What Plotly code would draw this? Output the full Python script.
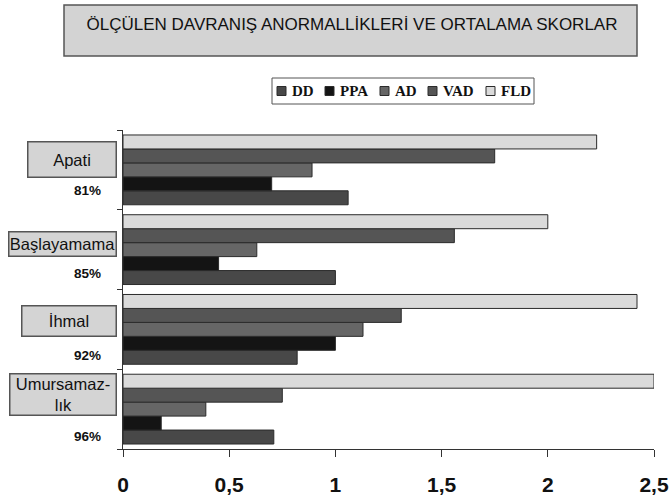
import plotly.graph_objects as go

# Behaviour abnormality categories (top to bottom) and share of patients
categories = ["Apati", "Başlayamama", "İhmal", "Umursamazlık"]
category_labels = ["Apati", "Başlayamama", "İhmal", "Umursamaz-<br>lık"]
prevalence = ["81%", "85%", "92%", "96%"]

# Mean scores per scale
series_names = ["DD", "PPA", "AD", "VAD", "FLD"]
dd = [1.06, 1.00, 0.82, 0.71]
ppa = [0.70, 0.45, 1.00, 0.18]
ad = [0.89, 0.63, 1.13, 0.39]
vad = [1.75, 1.56, 1.31, 0.75]
fld = [2.23, 2.00, 2.42, 2.50]
series_values = [dd, ppa, ad, vad, fld]

x_ticks = [0, 0.5, 1, 1.5, 2, 2.5]
x_tick_labels = ["0", "0,5", "1", "1,5", "2", "2,5"]

colors = ["#484848", "#141414", "#666666", "#555555", "#dadada"]
edge = "#2b2b2b"
box_fill = "#d4d4d4"
box_edge = "#555555"

W, H = 670, 499
L, R, T, B = 123, 16, 130, 50
PW, PH = W - L - R, H - T - B


def px(xp):
    return (xp - L) / PW


def py(yp):
    return (T + PH - yp) / PH


fig = go.Figure()
for name, vals, col in zip(series_names, series_values, colors):
    fig.add_trace(go.Bar(
        name=name, y=categories, x=vals, orientation="h",
        marker=dict(color=col, line=dict(color=edge, width=1)),
        showlegend=False,
    ))

shapes = []
annotations = []

# Title box
shapes.append(dict(type="rect", xref="paper", yref="paper",
                   x0=px(64), x1=px(637), y0=py(56), y1=py(5),
                   fillcolor="#d3d3d3", line=dict(color=box_edge, width=1.5),
                   layer="below"))

# Category name boxes and prevalence labels
box_w = [90, 109, 96, 108]
box_h = [37, 26, 32, 43]
box_shift = [10.4, 5.9, 8.6, 14.4]
pct_shift = [-21.1, -23.7, -26.6, -27.6]
for cat, lab, pct, bw, bh, bs, ps in zip(categories, category_labels, prevalence,
                                         box_w, box_h, box_shift, pct_shift):
    annotations.append(dict(
        x=0, y=cat, xref="x", yref="y", text=lab, showarrow=False,
        xanchor="right", yanchor="middle", xshift=-6, yshift=bs,
        width=bw - 3, height=bh - 3, bgcolor=box_fill,
        bordercolor=box_edge, borderwidth=1.5, borderpad=0,
        font=dict(family="Liberation Sans", size=16.5, color="#111111"),
    ))
    annotations.append(dict(
        x=0, y=cat, xref="x", yref="y", text=pct, showarrow=False,
        xanchor="center", yanchor="middle", xshift=-35.2, yshift=ps,
        font=dict(family="Liberation Sans", size=13.5, color="#111111",
                  weight="bold"),
    ))

# Legend drawn as a framed row of swatches
shapes.append(dict(type="rect", xref="paper", yref="paper",
                   x0=px(272), x1=px(534), y0=py(104), y1=py(78),
                   fillcolor="white", line=dict(color=box_edge, width=1)))
legend_x = [277, 325, 380, 428, 486]
for name, col, lx in zip(series_names, colors, legend_x):
    shapes.append(dict(type="rect", xref="paper", yref="paper",
                       x0=px(lx), x1=px(lx + 9), y0=py(95.5), y1=py(86.5),
                       fillcolor=col, line=dict(color=edge, width=1)))
    annotations.append(dict(
        x=px(lx + 13), y=py(91), xref="paper", yref="paper", text=name,
        showarrow=False, xanchor="left", yanchor="middle",
        font=dict(family="Liberation Serif", size=15, color="#111111",
                  weight="bold"),
    ))

fig.update_layout(
    width=W, height=H,
    margin=dict(l=L, r=R, t=T, b=B, autoexpand=False),
    paper_bgcolor="white", plot_bgcolor="white",
    barmode="group", bargap=0.125, bargroupgap=0,
    title=dict(text="ÖLÇÜLEN DAVRANIŞ ANORMALLİKLERİ VE ORTALAMA SKORLAR",
               xref="container", yref="container", x=352 / W, y=1 - 24 / H,
               xanchor="center", yanchor="middle",
               font=dict(family="Liberation Sans", size=17, color="#111111")),
    xaxis=dict(range=[0, 2.5], tickvals=x_ticks, ticktext=x_tick_labels,
               ticks="outside", ticklen=7,
               tickcolor="#333333", showline=True, linecolor="#333333",
               linewidth=1, showgrid=False, zeroline=False,
               ticklabelstandoff=10,
               tickfont=dict(family="Liberation Sans", size=21, color="#111111",
                             weight="bold")),
    yaxis=dict(type="category", categoryorder="array",
               categoryarray=categories[::-1], range=[-0.5, 3.5],
               ticks="outside", tickson="boundaries", ticklen=5,
               tickcolor="#333333", showline=True, linecolor="#333333",
               linewidth=1, showgrid=False, zeroline=False,
               showticklabels=False),
    shapes=shapes, annotations=annotations,
)

fig.write_html("out.html")
